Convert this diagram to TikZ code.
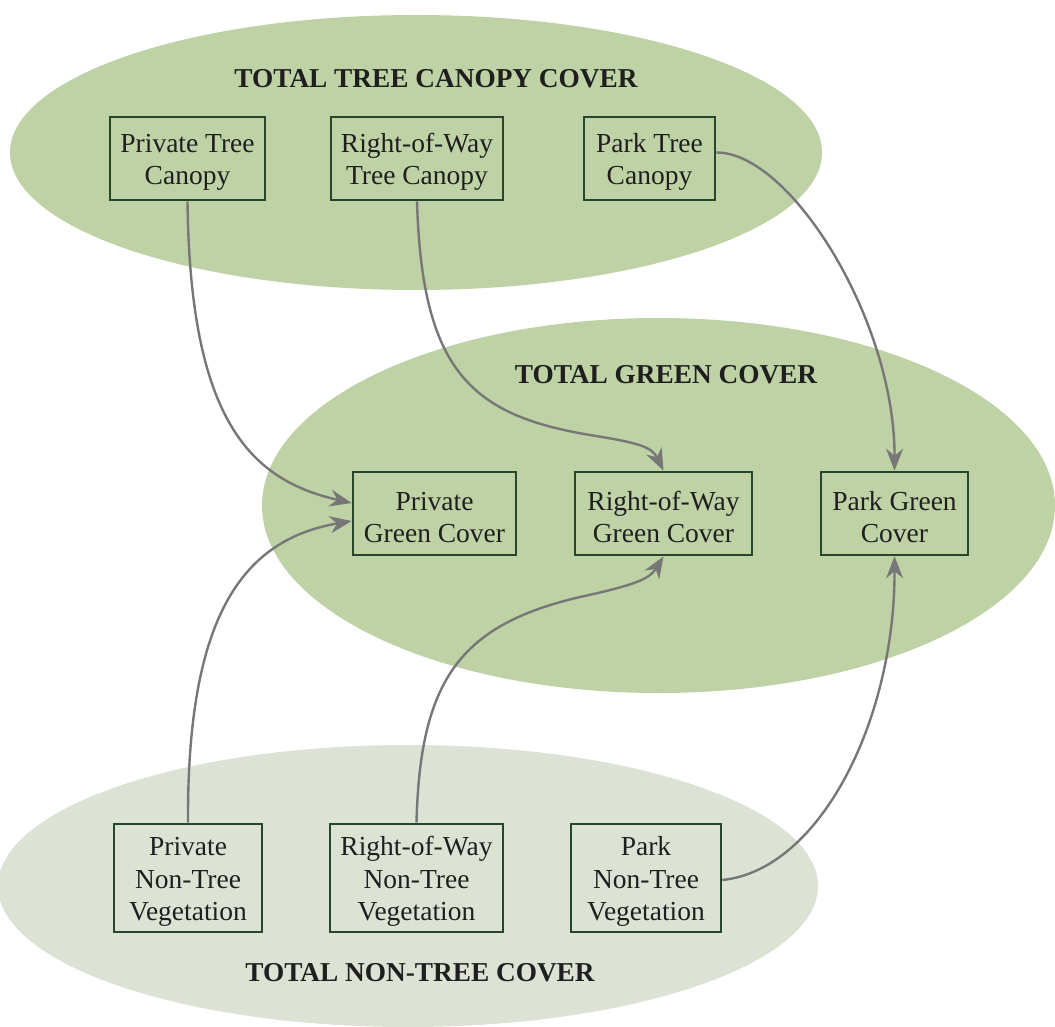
\documentclass[tikz,border=0pt]{standalone}
\usepackage{fontspec}
\setmainfont{Liberation Serif}
\usetikzlibrary{arrows.meta}
\definecolor{ellgreen}{HTML}{BED2A5}
\definecolor{elllight}{HTML}{DCE3D5}
\definecolor{boxgreen}{HTML}{28462C}
\definecolor{arrowgray}{HTML}{777777}
\newcommand{\boxstrut}{\rule{0pt}{26pt}}
\begin{document}
\begin{tikzpicture}[x=1pt,y=-1pt,
  boxnode/.style={draw=boxgreen, line width=2.6pt, align=center, inner sep=0pt,
    font=\fontsize{27.5}{32.5}\selectfont, text=black!88},
  titlenode/.style={font=\fontsize{27.3}{30}\selectfont\bfseries, text=black!88},
  link/.style={draw=arrowgray, line width=2.4pt, -{Stealth[length=22pt,width=17pt]}}]
\useasboundingbox (0,0) rectangle (1055,1027);
\begin{scope}
\clip (0,0) rectangle (1055,1027);
\fill[ellgreen] (416,152.5) ellipse [x radius=406, y radius=137.5];
\fill[ellgreen] (658.5,505.5) ellipse [x radius=396.5, y radius=187.5];
\fill[elllight] (408,886) ellipse [x radius=410, y radius=141];
\end{scope}

\node[titlenode] (t1) at (436,79) {TOTAL TREE CANOPY COVER};
\node[titlenode] (t2) at (666,375) {TOTAL GREEN COVER};
\node[titlenode] (t3) at (420,973) {TOTAL NON-TREE COVER};

\node[boxnode, minimum width=155, minimum height=83] (ptc) at (187.5,158.5) {\boxstrut Private Tree\\Canopy};
\node[boxnode, minimum width=172, minimum height=83] (rtc) at (417,158.5) {\boxstrut Right-of-Way\\Tree Canopy};
\node[boxnode, minimum width=131, minimum height=83] (ktc) at (649.5,158.5) {\boxstrut Park Tree\\Canopy};

\node[boxnode, minimum width=163, minimum height=83] (pgc) at (434.5,513.5) {\boxstrut Private\\Green Cover};
\node[boxnode, minimum width=177, minimum height=83] (rgc) at (663.5,513.5) {\boxstrut Right-of-Way\\Green Cover};
\node[boxnode, minimum width=147, minimum height=83] (kgc) at (894.5,513.5) {\boxstrut Park Green\\Cover};

\node[boxnode, minimum width=148, minimum height=108] (pnt) at (188,878) {\boxstrut Private\\Non-Tree\\Vegetation};
\node[boxnode, minimum width=173, minimum height=108] (rnt) at (416.5,878) {\boxstrut Right-of-Way\\Non-Tree\\Vegetation};
\node[boxnode, minimum width=150, minimum height=108] (knt) at (646,878) {\boxstrut Park\\Non-Tree\\Vegetation};

\coordinate (pgcA) at ([yshift=10.5pt]pgc.west);
\coordinate (pgcB) at ([yshift=-7.5pt]pgc.west);
\coordinate (ktcE) at ([yshift=6pt]ktc.east);
\coordinate (kntE) at ([yshift=-2pt]knt.east);
\coordinate (m1) at (590,435);
\coordinate (m2) at (580,597);

\draw[link] (ptc.south) .. controls (190,420) and (250,480) .. (pgcA);
\draw[link] (rtc.south) .. controls (422,370) and (470,415) .. (m1)
   .. controls (640,443) and (652,447) .. (rgc.north);
\draw[link] (ktcE) .. controls (790,152) and (895,320) .. (kgc.north);
\draw[link] (pnt.north) .. controls (187,620) and (240,540) .. (pgcB);
\draw[link] (rnt.north) .. controls (420,680) and (460,625) .. (m2)
   .. controls (640,584) and (650,578) .. (rgc.south);
\draw[link] (kntE) .. controls (820,870) and (895,720) .. (kgc.south);
\end{tikzpicture}
\end{document}
